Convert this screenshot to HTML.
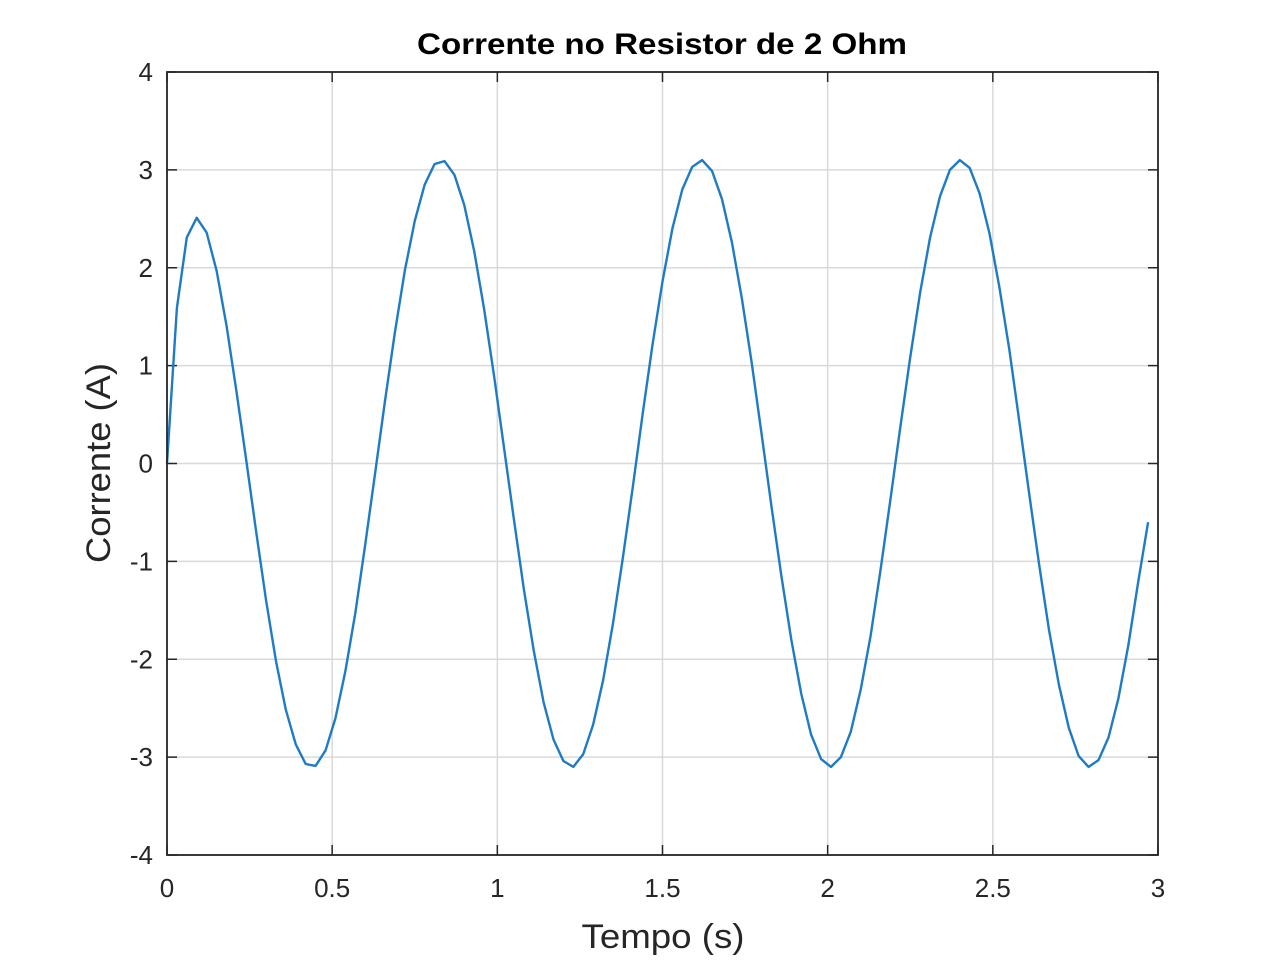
<!DOCTYPE html>
<html><head><meta charset="utf-8"><style>
body{margin:0;background:#fff;}
svg text{font-family:"Liberation Sans",Arial,sans-serif;fill:#262626;}
</style></head><body>
<svg id="chart" width="1280" height="960" xmlns="http://www.w3.org/2000/svg">
<rect width="1280" height="960" fill="#fff"/>
<g id="grid"></g>
<g id="ticks"></g>
<path id="line" fill="none" stroke="#1f7bc4" stroke-width="2.4" stroke-linejoin="round"/>
<rect x="167" y="72" width="991" height="783" fill="none" stroke="#262626" stroke-width="1.8"/>
<text x="662" y="54" font-size="30" font-weight="bold" text-anchor="middle" style="fill:#000" textLength="490" lengthAdjust="spacingAndGlyphs">Corrente no Resistor de 2 Ohm</text>
<text x="663" y="948" font-size="34" text-anchor="middle" textLength="163" lengthAdjust="spacingAndGlyphs">Tempo (s)</text>
<text transform="translate(110,463) rotate(-90)" font-size="34" text-anchor="middle" textLength="200" lengthAdjust="spacingAndGlyphs">Corrente (A)</text>
</svg>
<script>
const xTicks=[0,0.5,1,1.5,2,2.5,3];
const xTickLabels=["0","0.5","1","1.5","2","2.5","3"];
const yTicks=[-4,-3,-2,-1,0,1,2,3,4];
const yTickLabels=["-4","-3","-2","-1","0","1","2","3","4"];
const dt=0.03;
const current=[0,1.59,2.31,2.51,2.36,1.97,1.41,0.74,0.03,-0.70,-1.40,-2.02,-2.52,-2.87,-3.07,-3.09,-2.93,-2.60,-2.12,-1.53,-0.83,-0.10,0.64,1.34,1.97,2.48,2.85,3.06,3.09,2.95,2.64,2.17,1.58,0.90,0.17,-0.57,-1.28,-1.91,-2.44,-2.82,-3.04,-3.10,-2.97,-2.67,-2.22,-1.64,-0.96,-0.24,0.51,1.22,1.86,2.40,2.80,3.03,3.10,2.99,2.70,2.26,1.69,1.03,0.30,-0.44,-1.15,-1.80,-2.35,-2.77,-3.02,-3.10,-3.00,-2.74,-2.31,-1.76,-1.09,-0.37,0.37,1.09,1.75,2.31,2.73,3.00,3.10,3.02,2.76,2.35,1.80,1.16,0.43,-0.31,-1.03,-1.70,-2.26,-2.70,-2.99,-3.10,-3.03,-2.80,-2.40,-1.86,-1.21,-0.60];
const X0=167,X1=1158,Y0=855,Y1=72;
const xs=v=>X0+(v-0)/(3-0)*(X1-X0);
const ys=v=>Y0-(v+4)/8*(Y0-Y1);
const NS="http://www.w3.org/2000/svg";
const grid=document.getElementById('grid'),ticks=document.getElementById('ticks');
function mk(tag,attrs,parent){const e=document.createElementNS(NS,tag);for(const k in attrs)e.setAttribute(k,attrs[k]);parent.appendChild(e);return e;}
xTicks.forEach((t,i)=>{
  const x=xs(t);
  const g=mk('line',{x1:x,x2:x,y1:Y1,y2:Y0,stroke:'#d9d9d9','stroke-width':1.5},grid);
  
  
  const tk=mk('line',{x1:x,x2:x,y1:Y0,y2:Y0-10,stroke:'#262626','stroke-width':1.5},ticks);
  
  
  const tk2=mk('line',{x1:x,x2:x,y1:Y1,y2:Y1+10,stroke:'#262626','stroke-width':1.5},ticks);
  
  
  const tx=mk('text',{x:x,y:Y0+42,'font-size':26,'text-anchor':'middle'},ticks);
  tx.textContent=xTickLabels[i];
  
  
});
yTicks.forEach((t,i)=>{
  const y=ys(t);
  const g=mk('line',{x1:X0,x2:X1,y1:y,y2:y,stroke:'#d9d9d9','stroke-width':1.5},grid);
  
  
  const tk=mk('line',{x1:X0,x2:X0+10,y1:y,y2:y,stroke:'#262626','stroke-width':1.5},ticks);
  
  
  const tk2=mk('line',{x1:X1,x2:X1-10,y1:y,y2:y,stroke:'#262626','stroke-width':1.5},ticks);
  
  
  const tx=mk('text',{x:X0-14,y:y+9,'font-size':26,'text-anchor':'end'},ticks);
  tx.textContent=yTickLabels[i];
  
  
});
document.getElementById('line').setAttribute('d',current.map((v,i)=>(i?'L':'M')+xs(i*dt).toFixed(1)+','+ys(v).toFixed(1)).join(''));
</script>
</body></html>
